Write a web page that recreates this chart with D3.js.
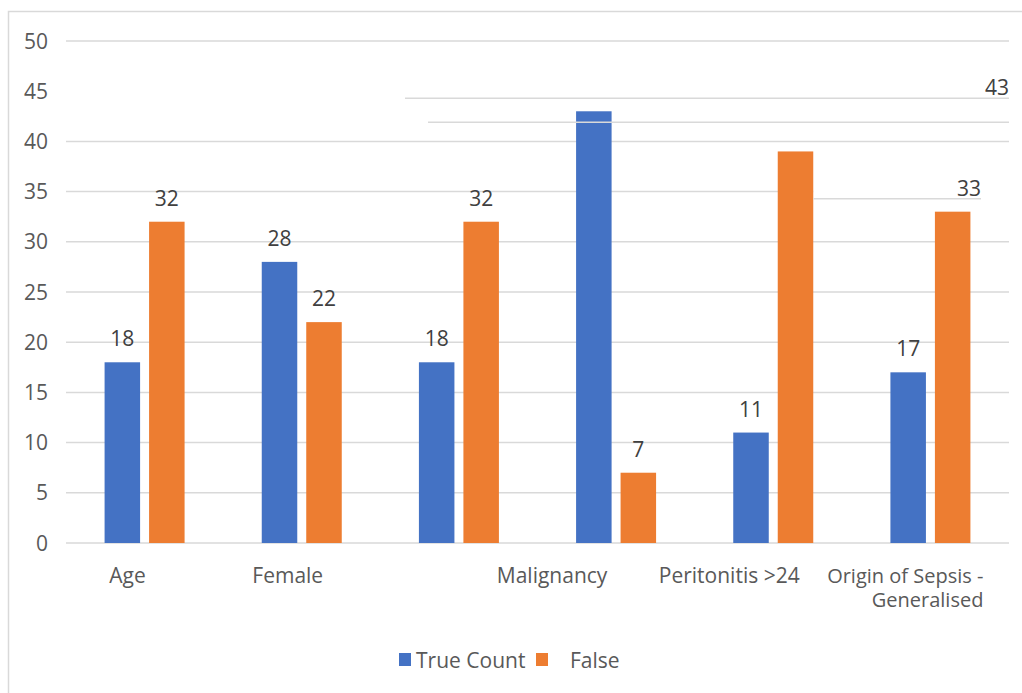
<!DOCTYPE html>
<html>
<head>
<meta charset="utf-8">
<script src="https://cdn.jsdelivr.net/npm/d3@7/dist/d3.min.js"></script>
<style>
  html, body { margin: 0; padding: 0; background: #ffffff; }
  svg { display: block; }
  text { font-family: "Open Sans", "Noto Sans", sans-serif; }
</style>
</head>
<body>
<svg id="chart" width="1022" height="693"></svg>
<script>
// ---- data ----
const categories = ["Age", "Female", "", "Malignancy", "Peritonitis >24", "Origin of Sepsis - Generalised"];
const categoryLines = [["Age"], ["Female"], [], ["Malignancy"], ["Peritonitis >24"], ["Origin of Sepsis -", "Generalised"]];
const seriesNames = ["True Count", "False"];
const trueCount = [18, 28, 18, 43, 11, 17];
const falseCount = [32, 22, 32, 7, 39, 33];
const yTicks = [0, 5, 10, 15, 20, 25, 30, 35, 40, 45, 50];

// ---- layout ----
const plot = { left: 66, right: 1009, top: 41, bottom: 543 };
const colors = { "True Count": "#4472C4", "False": "#ED7D31" };
const gridColor = "#d9d9d9";
const axisText = "#595959";
const labelText = "#404040";
const fontSize = 21;

const svg = d3.select("#chart");

// chart frame
svg.append("rect")
  .attr("x", 8.5).attr("y", 11.5)
  .attr("width", 1100).attr("height", 1000)
  .attr("fill", "#ffffff")
  .attr("stroke", gridColor).attr("stroke-width", 1.5);

const y = d3.scaleLinear().domain([0, 50]).range([plot.bottom, plot.top]);
const x = d3.scaleBand().domain(d3.range(categories.length)).range([plot.left, plot.right]).padding(0);
const groupWidth = x.bandwidth() * 0.509;
const xs = d3.scaleBand().domain(seriesNames).range([-groupWidth / 2, groupWidth / 2])
  .paddingInner(0.202).paddingOuter(0);

const rows = categories.map((c, i) => ({ i, c, values: [
  { s: "True Count", v: trueCount[i] },
  { s: "False", v: falseCount[i] }
]}));

// bar edges used by some gridline segments
const barLeft = (i, s) => x(i) + x.bandwidth() / 2 + xs(s);
const barRight = (i, s) => barLeft(i, s) + xs.bandwidth();

// gridlines (the 45 line is replaced by a label leader segment; the 35 line stops at the Peritonitis bar)
const gridSegments = yTicks.filter(t => t !== 45).map(t => ({
  v: t,
  x1: plot.left,
  x2: t === 35 ? barRight(4, "False") : plot.right
}));

const grid = svg.append("g");
grid.selectAll("line").data(gridSegments).join("line")
  .attr("x1", d => d.x1).attr("x2", d => d.x2)
  .attr("y1", d => y(d.v)).attr("y2", d => y(d.v))
  .attr("stroke", gridColor).attr("stroke-width", 1.5);

// y axis labels
const yAxis = svg.append("g");
yAxis.selectAll("text").data(yTicks).join("text")
  .attr("x", 48).attr("y", d => y(d)).attr("dy", "0.36em")
  .attr("text-anchor", "end")
  .attr("font-size", fontSize).attr("fill", axisText)
  .text(d => d);

// bars
const groups = svg.append("g").selectAll("g").data(rows).join("g")
  .attr("transform", d => `translate(${x(d.i) + x.bandwidth() / 2},0)`);
groups.selectAll("rect").data(d => d.values).join("rect")
  .attr("x", d => xs(d.s))
  .attr("width", xs.bandwidth())
  .attr("y", d => y(d.v))
  .attr("height", d => y(0) - y(d.v))
  .attr("fill", d => colors[d.s]);

// rule drawn over the Malignancy bar
const overRules = [{ v: 41.9, x1: plot.left + 362, x2: plot.right }];
svg.append("g").selectAll("line").data(overRules).join("line")
  .attr("x1", d => d.x1).attr("x2", d => d.x2)
  .attr("y1", d => y(d.v)).attr("y2", d => y(d.v))
  .attr("stroke", gridColor).attr("stroke-width", 1.5);

// data labels; two labels are pulled out to the right with leader lines, one is hidden
const labelMoves = {
  "3|True Count": { anchorX: plot.right, leaderFrom: plot.left + 339 },
  "5|False": { anchorX: plot.left + 915, leaderFrom: null }
};
const hidden = new Set(["4|False"]);
const labelData = [];
rows.forEach(r => r.values.forEach(d => {
  const key = r.i + "|" + d.s;
  if (hidden.has(key)) return;
  const cx = barLeft(r.i, d.s) + xs.bandwidth() / 2;
  const by = y(d.v) - 16;
  const mv = labelMoves[key];
  labelData.push({ key, v: d.v, x: mv ? mv.anchorX : cx, y: by, anchor: mv ? "end" : "middle", mv });
}));

const labels = svg.append("g");
labels.selectAll("text").data(labelData).join("text")
  .attr("x", d => d.x).attr("y", d => d.y)
  .attr("text-anchor", d => d.anchor)
  .attr("font-size", fontSize).attr("fill", labelText)
  .text(d => d.v);

// leader lines under the moved labels
const leaders = labelData.filter(d => d.mv).map(d => ({
  x1: d.mv.leaderFrom !== null ? d.mv.leaderFrom : barRight(4, "False"),
  x2: d.x,
  yy: d.y + 3
}));
labels.selectAll("line").data(leaders).join("line")
  .attr("x1", d => d.x1).attr("x2", d => d.x2)
  .attr("y1", d => d.yy).attr("y2", d => d.yy)
  .attr("stroke", gridColor).attr("stroke-width", 1.5);

// category labels
const catDx = [-17, -14, 0, -64, -44, 0];
const catG = svg.append("g");
categoryLines.forEach((lines, i) => {
  const isOrigin = lines.length > 1;
  const cx = x(i) + x.bandwidth() / 2;
  const ax = isOrigin ? cx + 53 : cx + catDx[i];
  lines.forEach((ln, k) => {
    catG.append("text")
      .attr("font-size", isOrigin ? 20 : fontSize).attr("fill", axisText)
      .attr("text-anchor", isOrigin ? "end" : "middle")
      .attr("x", ax).attr("y", 583 + k * 24)
      .text(ln);
  });
});

// legend
const legend = svg.append("g");
const legendItems = [
  { s: "True Count", sx: 399, tx: 416 },
  { s: "False", sx: 536, tx: 570 }
];
legend.selectAll("rect").data(legendItems).join("rect")
  .attr("x", d => d.sx).attr("y", 653)
  .attr("width", 12).attr("height", 13)
  .attr("fill", d => colors[d.s]);
legend.selectAll("text").data(legendItems).join("text")
  .attr("x", d => d.tx).attr("y", 660).attr("dy", "0.36em")
  .attr("font-size", fontSize).attr("fill", axisText)
  .text(d => d.s);
</script>
</body>
</html>
